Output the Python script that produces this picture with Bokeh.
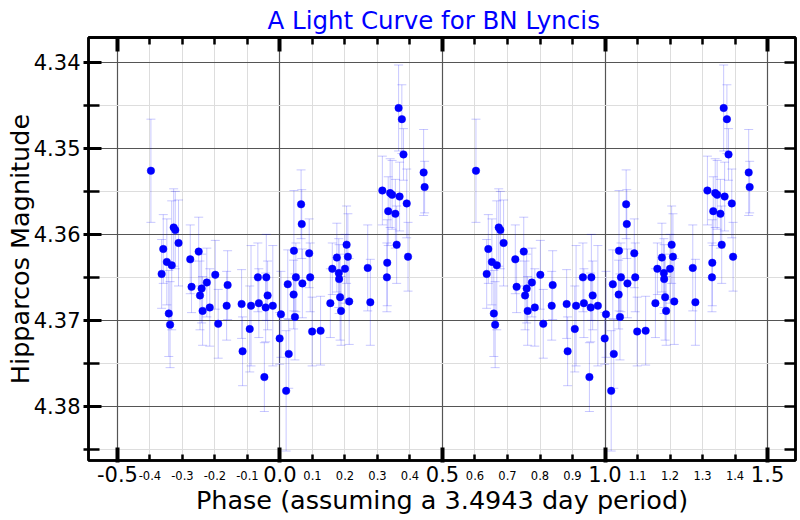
from bokeh.plotting import figure
from bokeh.models import Range1d, LinearAxis, FixedTicker, ColumnDataSource
from bokeh.embed import file_html
from bokeh.resources import INLINE

# ---- data ----
phase = [-0.397, -0.364, -0.359, -0.348, -0.342, -0.338, -0.333, -0.327, -0.322, -0.312,
         -0.276, -0.272, -0.250, -0.246, -0.241, -0.238, -0.225, -0.216, -0.199, -0.190,
         -0.164, -0.161, -0.118, -0.115, -0.093, -0.089, -0.068, -0.065, -0.048, -0.044,
         -0.042, -0.038, -0.022, -0.001, 0.003, 0.019, 0.024, 0.027, 0.042, 0.043,
         0.046, 0.049, 0.065, 0.067, 0.069, 0.090, 0.093, 0.099, 0.125, 0.155,
         0.161, 0.175, 0.181, 0.182, 0.185, 0.188, 0.200, 0.205, 0.209, 0.213,
         0.270, 0.278, 0.315, 0.329, 0.330, 0.333, 0.339, 0.345, 0.355, 0.359,
         0.365, 0.368, 0.375, 0.380, 0.390, 0.394, 0.442, 0.445]
mag = [4.3526, 4.3646, 4.3617, 4.3632, 4.3692, 4.3705, 4.3636, 4.3592, 4.3595, 4.3610,
       4.3629, 4.3661, 4.3620, 4.3671, 4.3663, 4.3689, 4.3656, 4.3685, 4.3647, 4.3704,
       4.3683, 4.3659, 4.3681, 4.3736, 4.3710, 4.3683, 4.3650, 4.3680, 4.3766, 4.3685,
       4.3650, 4.3671, 4.3683, 4.3721, 4.3693, 4.3782, 4.3658, 4.3739, 4.3670, 4.3619,
       4.3696, 4.3650, 4.3565, 4.3588, 4.3657, 4.3622, 4.3650, 4.3713, 4.3712, 4.3680,
       4.3640, 4.3627, 4.3645, 4.3652, 4.3673, 4.3689, 4.3640, 4.3612, 4.3626, 4.3678,
       4.3639, 4.3679, 4.3549, 4.3650, 4.3633, 4.3573, 4.3552, 4.3554, 4.3576, 4.3612,
       4.3453, 4.3556, 4.3466, 4.3507, 4.3564, 4.3626, 4.3528, 4.3545]
err = [0.006, 0.004, 0.004, 0.005, 0.005, 0.005, 0.0075, 0.0045, 0.0045, 0.005,
       0.004, 0.003, 0.004, 0.004, 0.004, 0.004, 0.004, 0.0045, 0.004, 0.004,
       0.004, 0.004, 0.004, 0.004, 0.005, 0.007, 0.004, 0.004, 0.004, 0.004,
       0.005, 0.004, 0.007, 0.003, 0.005, 0.007, 0.004, 0.004, 0.004, 0.007,
       0.005, 0.004, 0.004, 0.004, 0.004, 0.004, 0.004, 0.004, 0.004, 0.004,
       0.003, 0.004, 0.004, 0.004, 0.005, 0.004, 0.004, 0.0045, 0.005, 0.005,
       0.005, 0.005, 0.004, 0.004, 0.005, 0.004, 0.004, 0.004, 0.004, 0.0045,
       0.005, 0.004, 0.004, 0.003, 0.004, 0.004, 0.005, 0.003]
cycle_shift = [0.0, 1.0]   # the light curve is plotted twice: phase and phase + 1

x_major = [-0.5, 0.0, 0.5, 1.0, 1.5]
x_major_labels = ["-0.5", "0.0", "0.5", "1.0", "1.5"]
x_minor = [-0.4, -0.3, -0.2, -0.1, 0.1, 0.2, 0.3, 0.4, 0.6, 0.7, 0.8, 0.9, 1.1, 1.2, 1.3, 1.4]
x_minor_labels = ["-0.4", "-0.3", "-0.2", "-0.1", "0.1", "0.2", "0.3", "0.4",
                  "0.6", "0.7", "0.8", "0.9", "1.1", "1.2", "1.3", "1.4"]
y_major = [4.34, 4.35, 4.36, 4.37, 4.38]
y_major_labels = ["4.34", "4.35", "4.36", "4.37", "4.38"]
y_minor = [4.345, 4.355, 4.365, 4.375, 4.385]

title_text = "A Light Curve for BN Lyncis"
x_label = "Phase (assuming a 3.4943 day period)"
y_label = "Hipparcos Magnitude"

FONT = "DejaVu Sans"

xs, ys, lo, hi = [], [], [], []
for s in cycle_shift:
    for ph, m, e in zip(phase, mag, err):
        xs.append(ph + s)
        ys.append(m)
        lo.append(m - e)
        hi.append(m + e)
src = ColumnDataSource(dict(x=xs, y=ys, lo=lo, hi=hi))

p = figure(width=800, height=520, output_backend="svg", toolbar_location=None,
           x_range=Range1d(-0.589, 1.586), y_range=Range1d(4.3863, 4.3371),
           min_border_left=88, min_border_right=5, min_border_top=37, min_border_bottom=60,
           title=title_text)
p.background_fill_color = "white"
p.border_fill_color = "white"
p.outline_line_color = "black"
p.outline_line_width = 2.5

p.title.text_font = FONT
p.title.text_font_size = "24.5px"
p.title.text_font_style = "normal"
p.title.text_color = "#0000ff"
p.title.align = "left"
p.title.offset = 179
p.title.standoff = 5


def ticks_only(ax, t_in, t_out, w, major=False):
    ax.axis_line_color = "black"
    ax.axis_line_width = 2.5
    if major:
        ax.major_tick_in, ax.major_tick_out, ax.major_tick_line_width = t_in, t_out, w
        ax.major_tick_line_color = "black"
    else:
        ax.minor_tick_in, ax.minor_tick_out, ax.minor_tick_line_width = t_in, t_out, w
        ax.minor_tick_line_color = "black"
        ax.major_tick_in = 0
        ax.major_tick_out = 0
    ax.major_label_standoff = 0


# ---- bottom: axis A next to the frame (ticks + small labels) ----
bx = p.xaxis[0]
bx.ticker = FixedTicker(ticks=x_minor, minor_ticks=x_major)
bx.axis_line_color = "black"
bx.axis_line_width = 2.5
bx.major_tick_in, bx.major_tick_out, bx.major_tick_line_width = 6, 0, 2.5
bx.minor_tick_in, bx.minor_tick_out, bx.minor_tick_line_width = 13, 2, 4
bx.major_tick_line_color = "black"
bx.minor_tick_line_color = "black"
bx.major_label_overrides = {k: v for k, v in zip(x_minor, x_minor_labels)}
bx.major_label_text_font = FONT
bx.major_label_text_font_size = "11.5px"
bx.major_label_text_color = "black"
bx.major_label_standoff = 8

# ---- bottom: axis B (large labels at the half units + axis title) ----
bx2 = LinearAxis(ticker=FixedTicker(ticks=x_major, minor_ticks=[]))
bx2.axis_line_alpha = 0
bx2.major_tick_in = 0
bx2.major_tick_out = 0
bx2.major_tick_line_alpha = 0
bx2.minor_tick_line_alpha = 0
bx2.major_label_overrides = {k: v for k, v in zip(x_major, x_major_labels)}
bx2.major_label_text_font = FONT
bx2.major_label_text_font_size = "21px"
bx2.major_label_text_color = "black"
bx2.major_label_standoff = -17
bx2.axis_label = x_label
bx2.axis_label_text_font = FONT
bx2.axis_label_text_font_size = "25.5px"
bx2.axis_label_text_font_style = "normal"
bx2.axis_label_text_color = "black"
bx2.axis_label_standoff = 0
p.add_layout(bx2, "below")

# ---- left axis ----
ly = p.yaxis[0]
ly.ticker = FixedTicker(ticks=y_major, minor_ticks=y_minor)
ly.axis_line_color = "black"
ly.axis_line_width = 2.5
ly.major_tick_in, ly.major_tick_out, ly.major_tick_line_width = 13, 5, 3
ly.minor_tick_in, ly.minor_tick_out, ly.minor_tick_line_width = 11, 5, 2.5
ly.major_tick_line_color = "black"
ly.minor_tick_line_color = "black"
ly.major_label_overrides = {k: v for k, v in zip(y_major, y_major_labels)}
ly.major_label_text_font = FONT
ly.major_label_text_font_size = "21px"
ly.major_label_text_color = "black"
ly.major_label_standoff = 3
ly.axis_label = y_label
ly.axis_label_text_font = FONT
ly.axis_label_text_font_size = "25.5px"
ly.axis_label_text_font_style = "normal"
ly.axis_label_text_color = "black"
ly.axis_label_standoff = -4

# ---- top and right: tick marks only (no labels) ----
t1 = LinearAxis(ticker=FixedTicker(ticks=[], minor_ticks=x_minor))
ticks_only(t1, 7, 0, 2.5)
p.add_layout(t1, "above")
t2 = LinearAxis(ticker=FixedTicker(ticks=[], minor_ticks=x_major))
ticks_only(t2, 14, 0, 4)
p.add_layout(t2, "above")
r1 = LinearAxis(ticker=FixedTicker(ticks=[], minor_ticks=y_major + y_minor))
ticks_only(r1, 11, 0, 2.5)
p.add_layout(r1, "right")

# ---- grid ----
p.xgrid.ticker = FixedTicker(ticks=x_major, minor_ticks=x_minor)
p.ygrid.ticker = FixedTicker(ticks=y_major, minor_ticks=y_minor)
for g in (p.xgrid[0], p.ygrid[0]):
    g.grid_line_color = "#555555"
    g.grid_line_width = 1.2
    g.minor_grid_line_color = "#dddddd"
    g.minor_grid_line_width = 1

# ---- error bars ----
p.segment(x0="x", y0="lo", x1="x", y1="hi", source=src, line_color="blue",
          line_alpha=0.22, line_width=1)
p.scatter(x="x", y="lo", source=src, marker="dash", size=9, line_color="blue",
          line_alpha=0.22, line_width=1)
p.scatter(x="x", y="hi", source=src, marker="dash", size=9, line_color="blue",
          line_alpha=0.22, line_width=1)
# ---- points ----
p.scatter(x="x", y="y", source=src, marker="circle", size=7.5,
          fill_color="#0000ff", line_color="#0000ff", line_width=0.5)

open("out.html", "w").write(file_html(p, INLINE))
